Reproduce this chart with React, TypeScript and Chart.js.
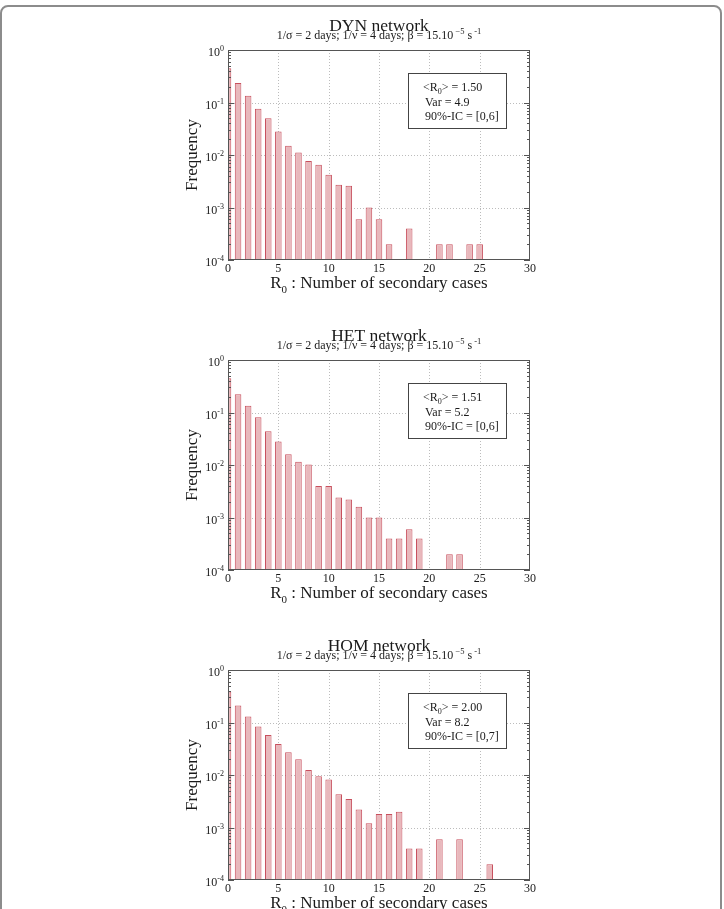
import React, { useEffect, useRef } from 'react';
import { Chart, registerables } from 'chart.js';

Chart.register(...registerables);

// ---------- data ----------
const secondaryCases = [0, 1, 2, 3, 4, 5, 6, 7, 8, 9, 10, 11, 12, 13, 14, 15, 16, 17, 18, 19, 20, 21, 22, 23, 24, 25, 26];

const dynFrequency = [0.45, 0.235, 0.135, 0.076, 0.05, 0.028, 0.015, 0.0112, 0.0077, 0.0065, 0.0042, 0.0027, 0.0026, 0.0006, 0.001, 0.0006, 0.0002, null, 0.0004, null, null, 0.0002, 0.0002, null, 0.0002, 0.0002, null];
const hetFrequency = [0.45, 0.223, 0.134, 0.081, 0.044, 0.028, 0.016, 0.0115, 0.0102, 0.004, 0.004, 0.0024, 0.0022, 0.0016, 0.001, 0.001, 0.0004, 0.0004, 0.0006, 0.0004, null, null, 0.0002, 0.0002, null, null, null];
const homFrequency = [0.39, 0.211, 0.13, 0.084, 0.058, 0.039, 0.027, 0.02, 0.0124, 0.0095, 0.0082, 0.0043, 0.0035, 0.0022, 0.0012, 0.0018, 0.0018, 0.002, 0.0004, 0.0004, null, 0.0006, null, 0.0006, null, null, 0.0002];

const panelTitles = ['DYN network', 'HET network', 'HOM network'];
const meanR0 = ['1.50', '1.51', '2.00'];
const varianceR0 = ['4.9', '5.2', '8.2'];
const intervalR0 = ['[0,6]', '[0,6]', '[0,7]'];

const xTickValues = [0, 5, 10, 15, 20, 25, 30];
const xTickLabels = ['0', '5', '10', '15', '20', '25', '30'];
const yDecades = [1, 0.1, 0.01, 0.001, 0.0001];
const yExponents = ['0', '-1', '-2', '-3', '-4'];
const minorMultipliers = [2, 3, 4, 5, 6, 7, 8, 9];

// ---------- style ----------
const SERIF = '"Liberation Serif", "Times New Roman", serif';
const BAR_FILL = '#e8b8bc';
const BAR_EDGE = '#c8505e';
const TEXT = '#1a1a1a';
const CANVAS_W = 724;
const CANVAS_H = 310;
const PANEL_TOPS = [0, 310, 620];

type Part = { text: string; size: number; dy?: number };

function drawRich(ctx: CanvasRenderingContext2D, parts: Part[], x: number, y: number, align: 'left' | 'center' | 'right') {
  let total = 0;
  const widths = parts.map((p) => {
    ctx.font = `${p.size}px ${SERIF}`;
    const w = ctx.measureText(p.text).width;
    total += w;
    return w;
  });
  let cx = align === 'center' ? x - total / 2 : align === 'right' ? x - total : x;
  ctx.textAlign = 'left';
  ctx.textBaseline = 'alphabetic';
  parts.forEach((p, i) => {
    ctx.font = `${p.size}px ${SERIF}`;
    ctx.fillText(p.text, cx, y + (p.dy || 0));
    cx += widths[i];
  });
}

function panelPlugin(idx: number) {
  return {
    id: 'panelDecor' + idx,
    beforeDatasetsDraw(chart: any) {
      const { ctx, chartArea: a, scales } = chart;
      const xs = scales.x;
      const ys = scales.y;
      ctx.save();
      ctx.strokeStyle = '#bcbcbc';
      ctx.lineWidth = 1;
      ctx.setLineDash([1, 2]);
      xTickValues.slice(1, -1).forEach((v) => {
        const px = Math.round(xs.getPixelForValue(v)) + 0.5;
        ctx.beginPath();
        ctx.moveTo(px, a.top);
        ctx.lineTo(px, a.bottom);
        ctx.stroke();
      });
      yDecades.slice(1, -1).forEach((v) => {
        const py = Math.round(ys.getPixelForValue(v)) + 0.5;
        ctx.beginPath();
        ctx.moveTo(a.left, py);
        ctx.lineTo(a.right, py);
        ctx.stroke();
      });
      ctx.restore();
    },
    afterDatasetsDraw(chart: any) {
      const { ctx, chartArea: a, scales } = chart;
      const xs = scales.x;
      const ys = scales.y;
      ctx.save();
      ctx.setLineDash([]);
      ctx.strokeStyle = '#555';
      ctx.lineWidth = 1;
      ctx.strokeRect(a.left + 0.5, a.top + 0.5, a.right - a.left - 1, a.bottom - a.top - 1);
      // ticks on left & right
      ctx.beginPath();
      yDecades.slice(1).forEach((d) => {
        minorMultipliers.forEach((m) => {
          const v = d * m;
          if (v >= 1) return;
          const py = Math.round(ys.getPixelForValue(v)) + 0.5;
          ctx.moveTo(a.left, py);
          ctx.lineTo(a.left + 3, py);
          ctx.moveTo(a.right, py);
          ctx.lineTo(a.right - 3, py);
        });
      });
      yDecades.forEach((v) => {
        const py = Math.round(ys.getPixelForValue(v)) + 0.5;
        ctx.moveTo(a.left, py);
        ctx.lineTo(a.left + 6, py);
        ctx.moveTo(a.right, py);
        ctx.lineTo(a.right - 6, py);
      });
      ctx.stroke();

      // labels
      ctx.fillStyle = TEXT;
      yDecades.forEach((v, i) => {
        const py = ys.getPixelForValue(v);
        drawRich(ctx, [{ text: '10', size: 12 }, { text: yExponents[i], size: 8, dy: -5 }], a.left - 4, py + 6, 'right');
      });
      xTickValues.forEach((v, i) => {
        const px = xs.getPixelForValue(v);
        drawRich(ctx, [{ text: xTickLabels[i], size: 12 }], px, a.bottom + 12, 'center');
      });

      const cx = (a.left + a.right) / 2;
      // title + subtitle
      drawRich(ctx, [{ text: panelTitles[idx], size: 17.5 }], cx, a.top - 19, 'center');
      drawRich(
        ctx,
        [
          { text: '1/\u03c3 = 2 days; 1/\u03bd = 4 days; \u03b2 = 15.10', size: 12 },
          { text: ' \u22125', size: 8.5, dy: -5 },
          { text: ' s', size: 12 },
          { text: ' -1', size: 8.5, dy: -5 },
        ],
        cx,
        a.top - 11,
        'center'
      );
      // axis titles
      drawRich(
        ctx,
        [
          { text: 'R', size: 17 },
          { text: '0', size: 11, dy: 5 },
          { text: ' : Number of secondary cases', size: 17 },
        ],
        cx,
        a.bottom + 28,
        'center'
      );
      ctx.save();
      ctx.translate(a.left - 31, (a.top + a.bottom) / 2);
      ctx.rotate(-Math.PI / 2);
      drawRich(ctx, [{ text: 'Frequency', size: 17 }], 0, 0, 'center');
      ctx.restore();

      // info box
      const bx = a.left + 180;
      const by = a.top + 23;
      ctx.fillStyle = '#ffffff';
      ctx.fillRect(bx, by, 98, 55);
      ctx.strokeStyle = '#444';
      ctx.strokeRect(bx + 0.5, by + 0.5, 98, 55);
      ctx.fillStyle = TEXT;
      drawRich(
        ctx,
        [
          { text: '<R', size: 12 },
          { text: '0', size: 8, dy: 3 },
          { text: '> = ' + meanR0[idx], size: 12 },
        ],
        bx + 15,
        by + 18,
        'left'
      );
      drawRich(ctx, [{ text: 'Var = ' + varianceR0[idx], size: 12 }], bx + 17, by + 32.5, 'left');
      drawRich(ctx, [{ text: '90%-IC = ' + intervalR0[idx], size: 12 }], bx + 17, by + 47, 'left');
      ctx.restore();
    },
  };
}

function makeChart(canvas: HTMLCanvasElement, values: (number | null)[], idx: number) {
  const points = secondaryCases
    .map((c, i) => ({ x: c, y: values[i] }))
    .filter((p) => p.y !== null && p.y !== undefined);
  return new Chart(canvas, {
    type: 'bar',
    data: {
      datasets: [
        {
          data: points as any,
          backgroundColor: BAR_FILL,
          borderColor: BAR_EDGE,
          borderWidth: 1,
          barPercentage: 0.65,
          categoryPercentage: 1,
          clip: 0,
        } as any,
      ],
    },
    options: {
      animation: false,
      responsive: false,
      devicePixelRatio: 1,
      layout: { padding: { left: 228, right: 194, top: 50, bottom: 50 } },
      plugins: {
        legend: { display: false },
        tooltip: { enabled: false },
        title: { display: false },
      },
      scales: {
        x: {
          type: 'linear',
          min: 0,
          max: 30,
          offset: false,
          display: false,
          ticks: { stepSize: 5 },
          grid: { offset: false },
        },
        y: {
          type: 'logarithmic',
          min: 0.0001,
          max: 1,
          display: false,
          afterBuildTicks: (s: any) => {
            s.ticks = yDecades.map((v) => ({ value: v }));
          },
        },
      },
    } as any,
    plugins: [panelPlugin(idx)],
  });
}

export default function App() {
  const r1 = useRef<HTMLCanvasElement>(null);
  const r2 = useRef<HTMLCanvasElement>(null);
  const r3 = useRef<HTMLCanvasElement>(null);

  useEffect(() => {
    const charts = [
      makeChart(r1.current!, dynFrequency, 0),
      makeChart(r2.current!, hetFrequency, 1),
      makeChart(r3.current!, homFrequency, 2),
    ];
    return () => charts.forEach((c) => c.destroy());
  }, []);

  const refs = [r1, r2, r3];
  return (
    <div
      style={{
        position: 'absolute',
        left: 0,
        top: 0,
        width: CANVAS_W,
        height: 909,
        overflow: 'hidden',
        background: '#fff',
      }}
    >
      <div
        style={{
          position: 'absolute',
          left: 0,
          top: 5,
          width: 722,
          height: 1000,
          boxSizing: 'border-box',
          border: '2px solid #8c8c8c',
          borderRadius: 8,
        }}
      />
      {refs.map((r, i) => (
        <canvas
          key={i}
          ref={r}
          width={CANVAS_W}
          height={CANVAS_H}
          style={{ position: 'absolute', left: 0, top: PANEL_TOPS[i], width: CANVAS_W, height: CANVAS_H }}
        />
      ))}
    </div>
  );
}
